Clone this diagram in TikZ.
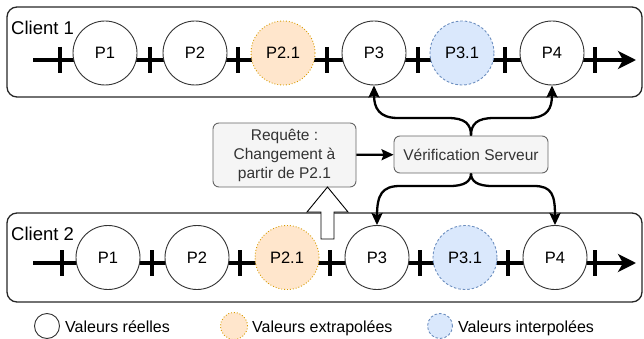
\documentclass[tikz,border=0pt]{standalone}
\usepackage{fontspec}
\setmainfont{Liberation Sans}
\usetikzlibrary{arrows.meta}
\definecolor{extfill}{HTML}{FFE6CC}
\definecolor{extdraw}{HTML}{D79B00}
\definecolor{intfill}{HTML}{DAE8FC}
\definecolor{intdraw}{HTML}{6C8EBF}
\definecolor{procfill}{HTML}{F5F5F5}
\definecolor{procdraw}{HTML}{666666}
\definecolor{proctext}{HTML}{333333}
\tikzset{
  clientbox/.style={draw=black!85, line width=1.3pt, rounded corners=10pt},
  clientlabel/.style={anchor=base west, inner sep=0pt, font=\fontsize{18.5}{20}\selectfont},
  realval/.style={circle, draw=black!80, fill=white, line width=0.9pt, minimum size=64pt, inner sep=0pt, font=\fontsize{16.5}{18}\selectfont},
  extval/.style={realval, draw=extdraw, fill=extfill, dotted},
  intval/.style={realval, draw=intdraw, fill=intfill, dash pattern=on 2.5pt off 2pt},
  timeline/.style={line width=3.5pt, -{Stealth[length=18pt, width=18pt, inset=5pt]}},
  tickmark/.style={line width=3.5pt},
  proc/.style={draw=procdraw, fill=procfill, line width=0.9pt, rounded corners=6pt, text=proctext, align=center, inner sep=0pt, font=\fontsize{15.5}{19}\selectfont},
  flow/.style={line width=2.3pt, -{Stealth[length=12pt, width=11pt, inset=2pt]}},
  legendtext/.style={anchor=base west, inner sep=0pt, font=\fontsize{16}{18}\selectfont},
}
\begin{document}
\begin{tikzpicture}[x=1pt, y=-1pt]
\useasboundingbox (0,0) rectangle (644,339);

% client frames
\draw[clientbox] (7,7) rectangle (642,97);
\draw[clientbox] (7,213) rectangle (642,302);

% time lines with tick marks
\coordinate (a0) at (33,60);  \coordinate (a1) at (636,60);
\coordinate (b0) at (33,263); \coordinate (b1) at (636,263);
\draw[timeline] (a0) -- (a1);
\draw[timeline] (b0) -- (b1);
\foreach \x in {60,150,238,327,418,505,595}
  \draw[tickmark] (\x,47) -- (\x,73);
\foreach \x in {62,152,240,330,420,508,595}
  \draw[tickmark] (\x,250) -- (\x,276);

% client 1 values
\node[realval] (a-p1)  at (105,53) {P1};
\node[realval] (a-p2)  at (195,53) {P2};
\node[extval]  (a-p21) at (283,53) {P2.1};
\node[realval] (a-p3)  at (374,53) {P3};
\node[intval]  (a-p31) at (462,53) {P3.1};
\node[realval] (a-p4)  at (552,53) {P4};

% client 2 values
\node[realval] (b-p1)  at (108,257.5) {P1};
\node[realval] (b-p2)  at (197,257.5) {P2};
\node[extval]  (b-p21) at (287,257.5) {P2.1};
\node[realval] (b-p3)  at (377,257.5) {P3};
\node[intval]  (b-p31) at (465,257.5) {P3.1};
\node[realval] (b-p4)  at (555,257.5) {P4};

\node[clientlabel] (c1) at (11,35) {Client 1};
\node[clientlabel] (c2) at (11,240) {Client 2};

% request and server check
\node[proc, minimum width=143pt, minimum height=64pt] (req) at (284.5,155)
  {Requête :\\Changement à\\partir de P2.1};
\node[proc, minimum width=154pt, minimum height=37pt] (ver) at (471,154.5)
  {Vérification Serveur};
\draw[flow] (req) -- (ver);

% hollow block arrow from client 2 up to the request
\coordinate (tip) at (327.5,187);
\draw[fill=white, line width=0.9pt, line join=miter]
  (tip) -- (348,212) -- (334,212) -- (334,239) -- (321,239) -- (321,212) -- (307,212) -- cycle;

% server answers sent to both clients
\draw[flow] (ver.north) .. controls (471,124) and (465,118) .. (448,118) -- (398,118)
  .. controls (379,118) and (374,108) .. (a-p3.south);
\draw[flow] (ver.north) .. controls (471,124) and (477,118) .. (494,118) -- (528,118)
  .. controls (548,118) and (552,108) .. (a-p4.south);
\draw[flow] (ver.south) .. controls (471,181) and (465,186) .. (450,186) -- (400,186)
  .. controls (382,186) and (377,195) .. (b-p3.north);
\draw[flow] (ver.south) .. controls (471,181) and (477,186) .. (492,186) -- (534,186)
  .. controls (552,186) and (555,195) .. (b-p4.north);

% legend
\node[realval, minimum size=25pt] (l1) at (47,326) {};
\node[legendtext] (t1) at (65,332) {Valeurs réelles};
\node[extval, minimum size=27pt] (l2) at (234,326) {};
\node[legendtext] (t2) at (252,332) {Valeurs extrapolées};
\node[intval, minimum size=25pt] (l3) at (440,326) {};
\node[legendtext] (t3) at (458,332) {Valeurs interpolées};
\end{tikzpicture}
\end{document}
